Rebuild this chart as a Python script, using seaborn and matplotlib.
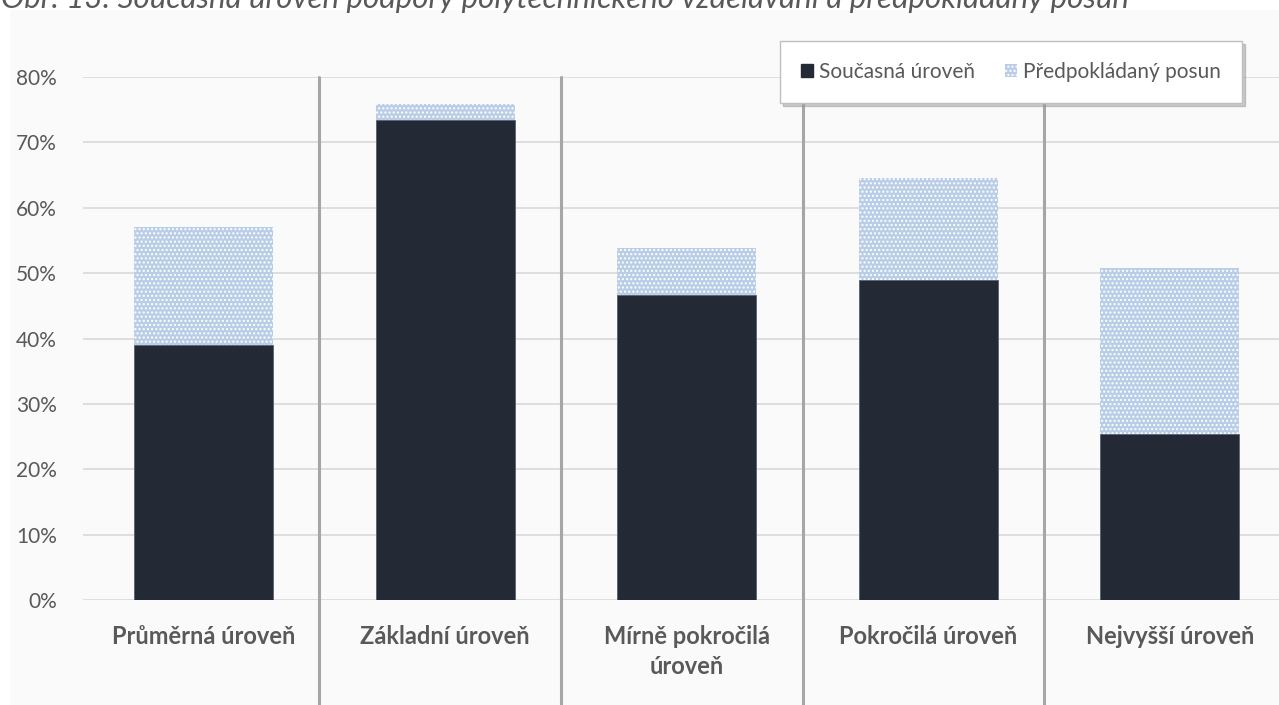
import matplotlib
matplotlib.use("Agg")
import matplotlib.pyplot as plt
import seaborn as sns
import pandas as pd
from matplotlib.patches import Rectangle, Patch
from matplotlib.ticker import FuncFormatter

categories = ["Průměrná úroveň", "Základní úroveň", "Mírně pokročilá\núroveň",
              "Pokročilá úroveň", "Nejvyšší úroveň"]
current = [39.0, 73.5, 46.6, 48.9, 25.4]
total = [57.1, 75.9, 53.9, 64.6, 50.8]
series_names = ["Současná úroveň", "Předpokládaný posun"]
title = "Obr. 13: Současná úroveň podpory polytechnického vzdělávání a předpokládaný posun"

sns.set_theme(style="white")
plt.rcParams["font.family"] = ["Lato", "DejaVu Sans"]
plt.rcParams["hatch.linewidth"] = 1.0

DARK = "#232a35"
LIGHT = "#b9cde7"
TXT = "#595959"

fig = plt.figure(figsize=(12.79, 7.05), dpi=100, facecolor="white")
W, H = 1279, 705
fig.patches.append(Rectangle((10 / W, 0), 1, 1 - 10 / H, transform=fig.transFigure,
                             facecolor="#fafafa", edgecolor="none", zorder=-10))
fig.text(0.001, 1 - 8 / H, title, ha="left", va="baseline", fontsize=22.5,
         style="italic", color=TXT)

left = 82.7 / W
right = 1290.7 / W
bottom = (H - 600.3) / H
top = (H - 77) / H
ax = fig.add_axes([left, bottom, right - left, top - bottom])
ax.patch.set_visible(False)

df = pd.DataFrame({"cat": categories, "current": current, "total": total})
sns.barplot(data=df, x="cat", y="total", color=LIGHT, width=0.575, ax=ax,
            saturation=1, zorder=3)
n = len(ax.patches)
for p in ax.patches:
    p.set_hatch("....")
    p.set_edgecolor("white")
    p.set_linewidth(0)
sns.barplot(data=df, x="cat", y="current", color=DARK, width=0.575, ax=ax,
            saturation=1, zorder=4)
for p in ax.patches[n:]:
    p.set_edgecolor("#5a6270")
    p.set_linewidth(0.6)

ax.set_ylim(0, 80)
ax.set_xlim(-0.5, len(categories) - 0.5)
ax.set_yticks(range(0, 81, 10))
ax.yaxis.set_major_formatter(FuncFormatter(lambda v, _: f"{v:.0f}%"))
ax.grid(axis="y", color="#d9d9d9", linewidth=1.2, zorder=0)
ax.set_axisbelow(True)
for s in ax.spines.values():
    s.set_visible(False)
ax.tick_params(axis="y", length=0, pad=18.5, labelsize=15, labelcolor=TXT)
ax.tick_params(axis="x", length=0, pad=18, labelsize=17, labelcolor=TXT)
for lab in ax.get_xticklabels():
    lab.set_fontweight("bold")
    lab.set_linespacing(1.35)
ax.set_xlabel("")
ax.set_ylabel("")

for i in range(len(categories) - 1):
    ax.axvline(i + 0.48, ymin=-104.7 / 523.3, ymax=1, color="#a6a6a6", linewidth=2.2,
               clip_on=False, zorder=2)

handles = [Patch(facecolor=DARK, edgecolor=DARK),
           Patch(facecolor=LIGHT, edgecolor="white", hatch="....", linewidth=0)]
leg = fig.legend(handles, series_names, loc="center", bbox_to_anchor=(1011 / W, 1 - 72 / H),
                 ncol=2, frameon=True, fancybox=False, shadow={"color": "#999999", "alpha": 0.5},
                 fontsize=15, handlelength=0.6, handleheight=0.6, handletextpad=0.3,
                 columnspacing=1.4, borderpad=1.0, borderaxespad=0)
leg.get_frame().set_edgecolor("#bfbfbf")
leg.get_frame().set_facecolor("white")
leg.get_frame().set_linewidth(1.0)
for t in leg.get_texts():
    t.set_color(TXT)

fig.savefig("out.png", dpi=100, facecolor="white")
